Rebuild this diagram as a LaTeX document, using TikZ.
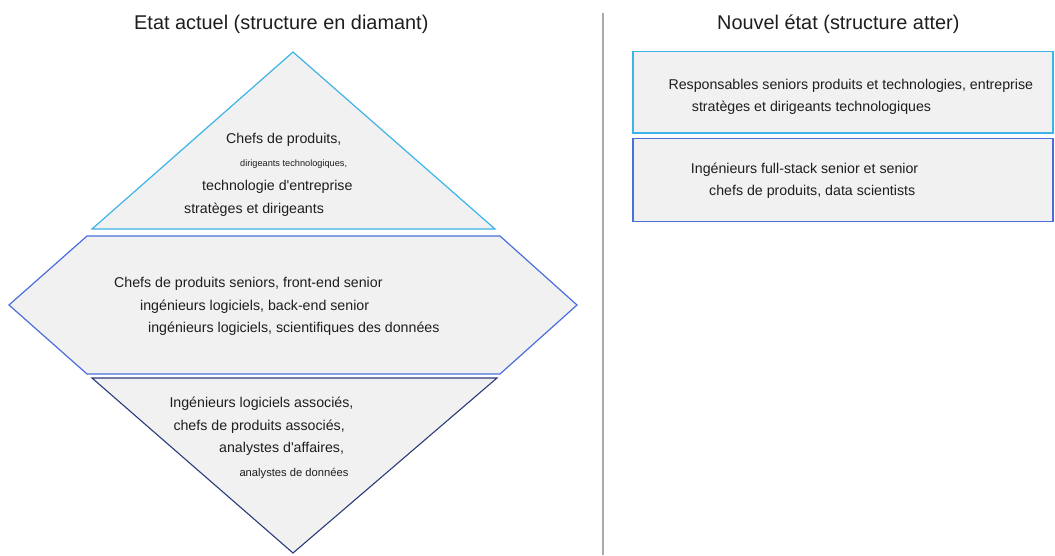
\documentclass[tikz,border=0pt]{standalone}
\usepackage{fontspec}
\setmainfont{Liberation Sans}[Ligatures=TeXOff]
\definecolor{lblue}{HTML}{3DB4E8}
\definecolor{mblue}{HTML}{4A6FDC}
\definecolor{dblue}{HTML}{2B3A7A}
\definecolor{shfill}{HTML}{F1F1F1}
\definecolor{txt}{HTML}{1E1E1E}
\definecolor{divider}{HTML}{AAAAAA}
\begin{document}
\begin{tikzpicture}[x=1pt,y=-1pt,
  lbl/.style={anchor=base west, inner sep=0pt, text=txt, font=\fontsize{14.2}{17}\selectfont},
  tiny/.style={lbl, font=\fontsize{9.2}{11}\selectfont},
  smalllbl/.style={lbl, font=\fontsize{11.2}{13}\selectfont},
  title/.style={lbl, font=\fontsize{19.9}{24}\selectfont},
  tier/.style={fill=shfill, line width=1.2pt, line join=miter},
  sep/.style={draw=divider, line width=2pt}]
\useasboundingbox (0,0) rectangle (1055,555);
% left: diamond structure
\coordinate (tA) at (293,52);
\coordinate (tR) at (495,229);
\coordinate (tL) at (92,229);
\filldraw[tier, draw=lblue] (tA) -- (tR) -- (tL) -- cycle;
\filldraw[tier, draw=mblue] (87,236) -- (500,236) -- (577,305) -- (500,374) -- (87,374) -- (9,305) -- cycle;
\coordinate (bL) at (92,378);
\coordinate (bR) at (497,378);
\coordinate (bA) at (293,553);
\filldraw[tier, draw=dblue, line width=1.1pt] (bL) -- (bR) -- (bA) -- cycle;
% right: flat structure
\filldraw[tier, draw=lblue] (633,51.5) rectangle (1053,133);
\filldraw[tier, draw=mblue] (633,138.5) rectangle (1053,221.5);
% divider
\coordinate (d1) at (603,13);
\coordinate (d2) at (603,555);
\draw[sep] (d1) -- (d2);
% titles
\node[title] (t1) at (134,29.5) {Etat actuel (structure en diamant)};
\node[title] (t2) at (717,29.5) {Nouvel état (structure atter)};
% top triangle text
\node[lbl] (a1) at (226,143.3) {Chefs de produits,};
\node[tiny] (a2) at (240,166.7) {dirigeants technologiques,};
\node[lbl] (a3) at (202,190.5) {technologie d'entreprise};
\node[lbl] (a4) at (184,213) {stratèges et dirigeants};
% middle text
\node[lbl] (m1) at (114,287.7) {Chefs de produits seniors, front-end senior};
\node[lbl] (m2) at (140,310) {ingénieurs logiciels, back-end senior};
\node[lbl] (m3) at (148,332.3) {ingénieurs logiciels, scientifiques des données};
% bottom text
\node[lbl] (b1) at (169.3,407.3) {Ingénieurs logiciels associés,};
\node[lbl] (b2) at (173.3,430) {chefs de produits associés,};
\node[lbl] (b3) at (219,452.7) {analystes d'affaires,};
\node[smalllbl] (b4) at (239.3,476.7) {analystes de données};
% right boxes text
\node[lbl] (r1) at (668.3,89.3) {Responsables seniors produits et technologies, entreprise};
\node[lbl] (r2) at (691.7,111.7) {stratèges et dirigeants technologiques};
\node[lbl] (r3) at (690.7,173.3) {Ingénieurs full-stack senior et senior};
\node[lbl] (r4) at (709,195) {chefs de produits, data scientists};
\end{tikzpicture}
\end{document}
